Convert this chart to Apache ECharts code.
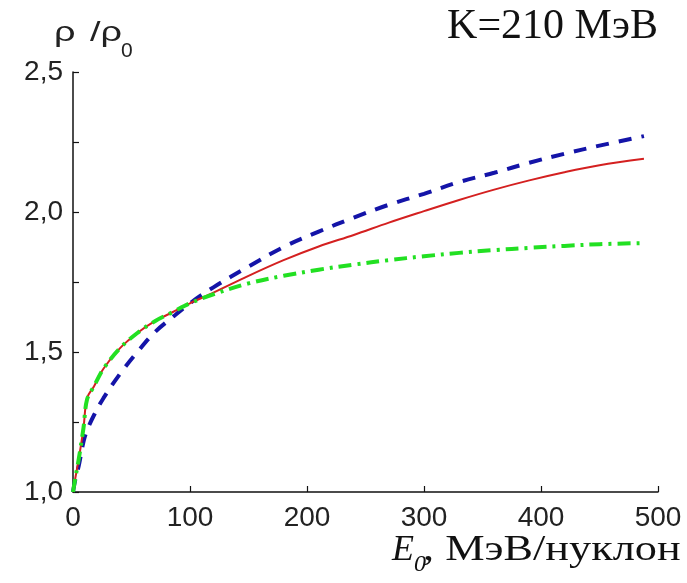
<!DOCTYPE html>
<html>
<head>
<meta charset="utf-8">
<script src="https://cdn.jsdelivr.net/npm/echarts@6/dist/echarts.min.js"></script>
<style>html,body{margin:0;padding:0;background:#fff}#c{width:687px;height:583px}</style>
</head>
<body>
<div id="c"></div>
<script>
// Data
const E0     = [0, 2, 5, 9, 12, 18, 26, 40, 55, 70, 85, 100, 120, 150, 180, 210, 240, 270, 300, 330, 360, 390, 420, 450, 488];
const redY   = [1.0, 1.05, 1.12, 1.23, 1.335, 1.378, 1.44, 1.513, 1.568, 1.61, 1.642, 1.674, 1.712, 1.772, 1.828, 1.877, 1.918, 1.962, 2.003, 2.043, 2.08, 2.113, 2.142, 2.167, 2.19];
const greenY = [1.0, 1.05, 1.12, 1.23, 1.33, 1.378, 1.44, 1.513, 1.568, 1.61, 1.642, 1.674, 1.706, 1.745, 1.772, 1.794, 1.812, 1.828, 1.842, 1.854, 1.864, 1.872, 1.879, 1.885, 1.889];
const blueY  = [1.0, 1.045, 1.095, 1.18, 1.22, 1.275, 1.335, 1.421, 1.5, 1.571, 1.624, 1.674, 1.731, 1.805, 1.875, 1.93, 1.98, 2.026, 2.065, 2.107, 2.14, 2.176, 2.208, 2.237, 2.271];
const xTicks = [0, 100, 200, 300, 400, 500];
const yTicks = [1.0, 1.5, 2.0, 2.5];

const pairs = ys => E0.map((x, i) => [x, ys[i]]);
const chart = echarts.init(document.getElementById('c'), null, {renderer: 'canvas'});
const sans = 'Liberation Sans, Arial, sans-serif';
const serif = 'Liberation Serif, Times New Roman, serif';
chart.setOption({
  animation: false,
  backgroundColor: '#fff',
  grid: {left: 73, right: 29, top: 72, bottom: 91, containLabel: false},
  xAxis: {
    type: 'value', min: xTicks[0], max: xTicks[xTicks.length - 1], interval: 100,
    axisLine: {show: true, onZero: false, lineStyle: {color: '#111', width: 1.5}},
    axisTick: {show: true, inside: true, length: 6, lineStyle: {color: '#111', width: 1.2}},
    splitLine: {show: false},
    axisLabel: {fontFamily: sans, fontSize: 28, color: '#222', margin: 12, formatter: v => String(v)}
  },
  yAxis: {
    type: 'value', min: yTicks[0], max: yTicks[yTicks.length - 1], interval: 0.5,
    axisLine: {show: true, onZero: false, lineStyle: {color: '#111', width: 1.5}},
    axisTick: {show: true, inside: true, length: 6, lineStyle: {color: '#111', width: 1.2}},
    minorTick: {show: true, splitNumber: 2, length: 6, lineStyle: {color: '#111', width: 1.2}},
    splitLine: {show: false},
    axisLabel: {fontFamily: sans, fontSize: 28, color: '#222', margin: 10, formatter: v => v.toFixed(1).replace('.', ',')}
  },
  series: [
    {type: 'line', data: pairs(blueY), showSymbol: false, smooth: 0.35,
     lineStyle: {color: '#1414a8', width: 4, type: [13, 10]}},
    {type: 'line', data: pairs(redY), showSymbol: false, smooth: 0.35,
     lineStyle: {color: '#d42020', width: 2}},
    {type: 'line', data: pairs(greenY), showSymbol: false, smooth: 0.35,
     lineStyle: {color: '#22e022', width: 4, type: [13, 6, 3, 6]}}
  ],
  graphic: [
    {type: 'text', x: 54, y: 33, scaleX: 1.35, style: {text: 'ρ', font: '28px ' + sans, fill: '#222', verticalAlign: 'middle'}},
    {type: 'text', x: 90, y: 33, scaleX: 1.35, style: {text: '/ρ', font: '28px ' + sans, fill: '#222', verticalAlign: 'middle'}},
    {type: 'text', x: 121, y: 51, style: {text: '0', font: '21px ' + sans, fill: '#222', verticalAlign: 'middle'}},
    {type: 'text', x: 658, y: 27, style: {text: 'K=210 МэВ', font: '42px ' + serif, fill: '#111', align: 'right', verticalAlign: 'middle'}},
    {type: 'text', x: 392, y: 551, style: {text: 'E', font: 'italic 36px ' + serif, fill: '#111', verticalAlign: 'middle'}},
    {type: 'text', x: 414, y: 565, style: {text: '0', font: 'italic 24px ' + serif, fill: '#111', verticalAlign: 'middle'}},
    {type: 'text', x: 423, y: 551, scaleX: 1.23, style: {text: ', МэВ/нуклон', font: '36px ' + serif, fill: '#111', verticalAlign: 'middle'}}
  ]
});
</script>
</body>
</html>
